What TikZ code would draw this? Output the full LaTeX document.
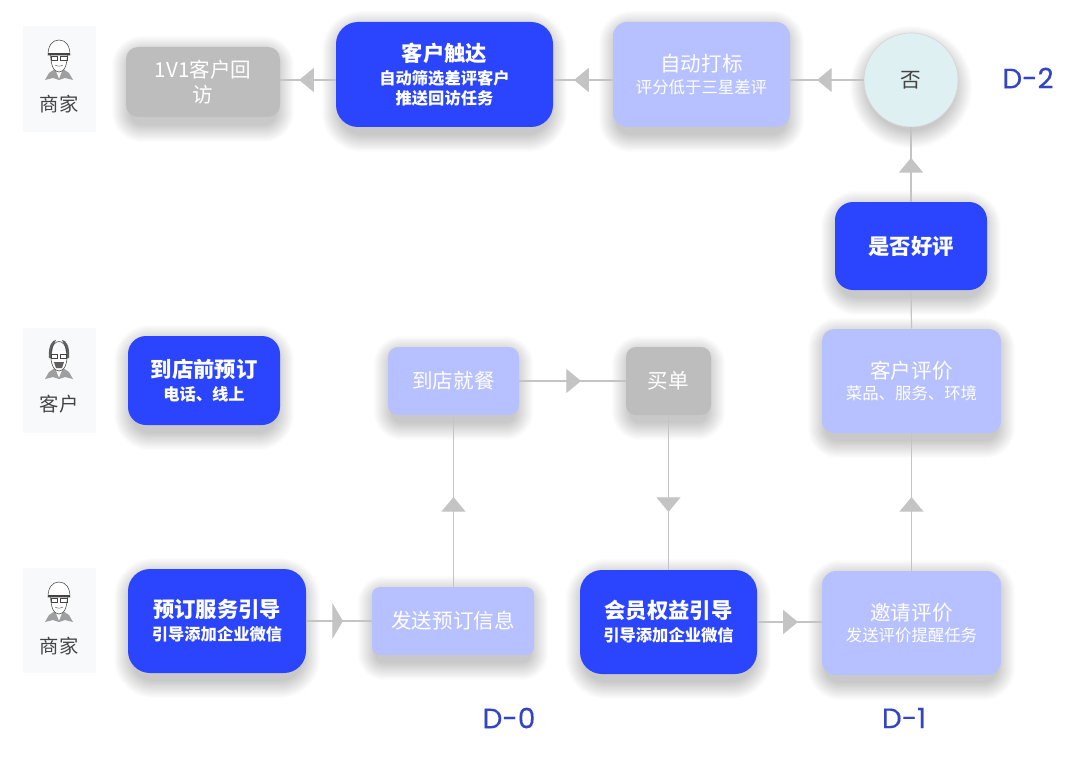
\documentclass[tikz,border=0pt]{standalone}
\usepackage{fontspec}
\setmainfont{Noto Sans CJK SC}
\newfontfamily\cjkb{Noto Sans CJK SC}
\newfontfamily\latn[FakeBold=0.2]{Poppins}
\usetikzlibrary{arrows.meta,decorations.markings}
\definecolor{deep}{HTML}{2B45FF}
\definecolor{pale}{HTML}{B7C1FF}
\definecolor{graybox}{HTML}{BDBDBD}
\definecolor{lineg}{HTML}{C4C4C4}
\definecolor{tint}{HTML}{DFF0F3}
\definecolor{panel}{HTML}{F8F9FA}
\definecolor{dlab}{HTML}{3345C4}
\definecolor{ink}{HTML}{444444}
\newcommand{\pxf}[2]{\fontsize{#1pt}{#2pt}\selectfont}
\tikzset{
  x=0.75pt,y=-0.75pt,
  conn/.style={draw=lineg,line width=0.9pt},
  tri/.style={postaction={decorate,decoration={markings,mark=at position #1 with {\arrow{Triangle[length=11pt,width=18pt,color=lineg]}}}}},
  slimtri/.style={postaction={decorate,decoration={markings,mark=at position #1 with {\arrow{Triangle[length=8pt,width=27pt,color=lineg]}}}}},
  boxdeep/.style={fill=deep,text=white,align=center,inner sep=0pt},
  boxpale/.style={fill=pale,text=white,align=center,inner sep=0pt},
  boxgray/.style={fill=graybox,text=white,align=center,inner sep=0pt},
  panelbox/.style={fill=panel,inner sep=0pt},
  persontext/.style={text=ink,font=\pxf{14.5}{16}},
  daylabel/.style={text=dlab,font=\latn\pxf{21}{24}},
  shadowlayer/.style={fill=black,fill opacity=0.011},
}
% one shadow ring: x0,y0,x1,y1,radius,grow
\newcommand{\shring}[6]{%
  \pgfmathsetlengthmacro{\shr}{(#5+#6)*0.75pt}%
  \pgfmathsetmacro{\sxa}{#1-#6+4}\pgfmathsetmacro{\sya}{#2-#6+7}%
  \pgfmathsetmacro{\sxb}{#3+#6-4}\pgfmathsetmacro{\syb}{#4+#6+7}%
  \path[shadowlayer,rounded corners=\shr] (\sxa,\sya) rectangle (\sxb,\syb);%
}
% soft shadow + node: name, x0, y0, x1, y1, radius, style, text
\newcommand{\bx}[8]{%
  \foreach \grow in {1,...,18}{\shring{#2}{#3}{#4}{#5}{#6}{\grow}}%
  \pgfmathsetlengthmacro{\bw}{(#4-#2)*0.75pt}%
  \pgfmathsetlengthmacro{\bh}{(#5-#3)*0.75pt}%
  \pgfmathsetlengthmacro{\br}{#6*0.75pt}%
  \pgfmathsetmacro{\bcx}{(#2+#4)/2}\pgfmathsetmacro{\bcy}{(#3+#5)/2}%
  \node[#7,rectangle,rounded corners=\br,minimum width=\bw,minimum height=\bh] (#1) at (\bcx,\bcy) {#8};%
}
\newcommand{\bigw}[1]{{\cjkb\bfseries\pxf{16}{18}#1}}
\newcommand{\smallw}[1]{{\cjkb\bfseries\pxf{12.2}{15}#1}}
\newcommand{\bigp}[1]{{\pxf{15.4}{18}#1}}
\newcommand{\smallp}[1]{{\pxf{12.3}{15}#1}}
\newcommand{\manbody}{%
    \fill[gray!75] (-14,21) -- (-10,14) -- (-4,10) -- (0,20) -- (4,10) -- (10,14) -- (14,21) -- (6,19) -- (0,21) -- (-6,19) -- cycle;
    \draw[fill=white] (-8.5,-7) .. controls (-8.5,7) and (-5,13) .. (0,13) .. controls (5,13) and (8.5,7) .. (8.5,-7);
    \draw[line width=0.3pt] (-4,6) .. controls (-2,7.5) and (2,7.5) .. (4,6);
}
\newcommand{\man}[2]{%
  \begin{scope}[shift={(#1,#2)},line width=0.4pt,draw=ink]
    \manbody
    \draw[fill=white] (-11,-4) .. controls (-11,-13) and (-7,-19) .. (0,-19) .. controls (7,-19) and (11,-13) .. (11,-4) -- cycle;
    \draw[line width=0.9pt] (-11,-5) -- (11,-5);
    \draw[line width=0.5pt] (-8,-2.5) rectangle (-1.5,1) (1.5,-2.5) rectangle (8,1);
  \end{scope}}
\newcommand{\manb}[2]{%
  \begin{scope}[shift={(#1,#2)},line width=0.4pt,draw=ink]
    \manbody
    \fill[gray!75!black] (-10,0) .. controls (-11,-12) and (-7,-18) .. (-3,-18) -- (-6,-12) -- (-8,0) -- cycle;
    \fill[gray!75!black] (10,0) .. controls (11,-12) and (7,-18) .. (3,-18) -- (6,-12) -- (8,0) -- cycle;
    \draw (-8,-6) .. controls (-6,-20) and (6,-20) .. (8,-6);
    \draw[line width=0.5pt] (-7.5,-4) rectangle (-1.5,0) (1.5,-4) rectangle (7.5,0);
    \fill[gray!75!black] (-5,4) -- (5,4) -- (3,10) -- (-3,10) -- cycle;
  \end{scope}}
\begin{document}
\begin{tikzpicture}
\useasboundingbox (0,0) rectangle (1080,756);
\fill[white] (0,0) rectangle (1080,756);
% panels
\node[panelbox,minimum width=54.75pt,minimum height=79.5pt] (p1) at (59.5,79) {};
\node[panelbox,minimum width=54.75pt,minimum height=78.75pt] (p2) at (59.5,380.5) {};
\node[panelbox,minimum width=54.75pt,minimum height=78.75pt] (p3) at (59.5,620.5) {};
\man{59}{59}\manb{59}{358}\man{59}{601}
\node[persontext] (t1) at (59,104) {商家};
\node[persontext] (t2) at (59,404) {客户};
\node[persontext] (t3) at (59,646) {商家};
% boxes
\bx{a1}{126}{47}{280}{117}{12}{boxgray}{\bigp{1V1客户回}\\[3pt]\bigp{访}}
\bx{a2}{336}{22}{553}{127}{22}{boxdeep}{\bigw{客户触达}\\[4pt]\smallw{自动筛选差评客户}\\[3pt]\smallw{推送回访任务}}
\bx{a3}{613}{22}{790}{127}{14}{boxpale}{\bigp{自动打标}\\[4pt]\smallp{评分低于三星差评}}
\foreach \grow in {1,...,18}{\path[shadowlayer] (911,87) circle[radius=43+\grow];}
\node[circle,fill=tint,draw=lineg!70,line width=0.5pt,minimum size=70.5pt,inner sep=0pt,text=ink,font=\pxf{15.5}{18}] (c) at (911,80) {否};
\bx{b1}{835}{202}{987}{290}{18}{boxdeep}{\bigw{是否好评}}
\bx{b2}{822}{329}{1001}{433}{12}{boxpale}{\bigp{客户评价}\\[4pt]\smallp{菜品、服务、环境}}
\bx{b3}{822}{571}{1001}{675}{14}{boxpale}{\bigp{邀请评价}\\[4pt]\smallp{发送评价提醒任务}}
\bx{d1}{128}{336}{280}{425}{18}{boxdeep}{\bigw{到店前预订}\\[4pt]\smallw{电话、线上}}
\bx{d2}{388}{347}{519}{415}{10}{boxpale}{\bigp{到店就餐}}
\bx{d3}{626}{347}{711}{415}{10}{boxgray}{\bigp{买单}}
\bx{e1}{128}{569}{306}{673}{22}{boxdeep}{\bigw{预订服务引导}\\[4pt]\smallw{引导添加企业微信}}
\bx{e2}{372}{587}{534}{655}{8}{boxpale}{\bigp{发送预订信息}}
\bx{e3}{580}{570}{757}{674}{22}{boxdeep}{\bigw{会员权益引导}\\[4pt]\smallw{引导添加企业微信}}
% connectors
\draw[conn,tri=0.66] (a2.west |- c.west) -- (a1.east |- c.west);
\draw[conn,tri=0.65] (a3.west |- c.west) -- (a2.east |- c.west);
\draw[conn,tri=0.635] (c.west) -- (a3.east |- c.west);
\draw[conn,tri=0.59] (b1.north -| c.south) -- (c.south);
\draw[conn] (b2.north) -- (b1.south);
\draw[conn,tri=0.536] (b3.north) -- (b2.south);
\draw[conn,tri=0.523] (e2.north -| d2.south) -- (d2.south);
\draw[conn,tri=0.58] (d2.east) -- (d3.west);
\draw[conn,tri=0.626] (d3.south) -- (d3.south |- e3.north);
\draw[conn,slimtri=0.56] (e1.east) -- (e2.west);
\draw[conn,tri=0.63] (e3.east) -- (e3.east -| b3.west);
% labels
\node[daylabel] (l2) at (1028,78) {D-2};
\node[daylabel] (l0) at (509,718) {D-0};
\node[daylabel] (l1) at (904,718) {D-1};
\end{tikzpicture}
\end{document}
